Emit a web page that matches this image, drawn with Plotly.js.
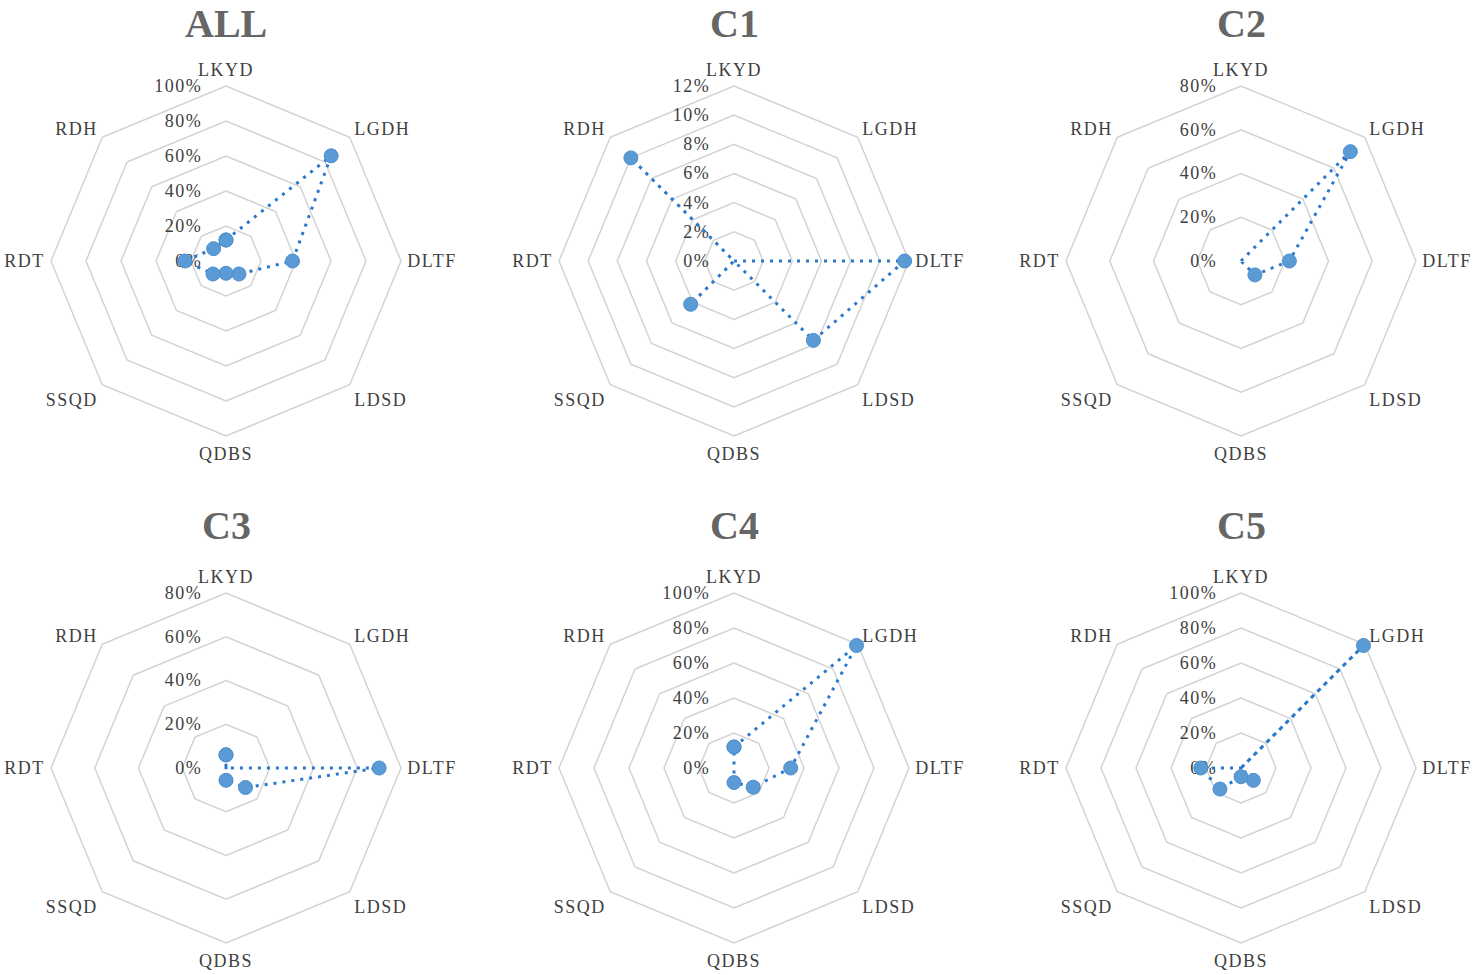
<!DOCTYPE html>
<html>
<head>
<meta charset="utf-8">
<script src="https://cdn.plot.ly/plotly-3.0.1.min.js"></script>
<style>
  html, body { margin: 0; padding: 0; background: #ffffff; }
  #chart { width: 1476px; height: 975px; }
  #chart .angularaxistick text, #chart .radialaxistick text, #chart .xtick text { letter-spacing: 1.5px; }
</style>
</head>
<body>
<div id="chart"></div>
<script>
// ---------- data ----------
const categories = ['LKYD', 'LGDH', 'DLTF', 'LDSD', 'QDBS', 'SSQD', 'RDT', 'RDH'];
const panelTitles = ['ALL', 'C1', 'C2', 'C3', 'C4', 'C5'];
const allValues = [0.12, 0.85, 0.38, 0.105, 0.07, 0.105, 0.235, 0.10];
const c1Values  = [0, 0, 0.117, 0.077, 0, 0.042, 0, 0.100];
const c2Values  = [0, 0.707, 0.221, 0.09, 0, 0, 0, 0];
const c3Values  = [0.06, 0, 0.70, 0.126, 0.056, 0, 0, 0];
const c4Values  = [0.12, 0.99, 0.324, 0.155, 0.083, 0, 0, 0];
const c5Values  = [0, 0.99, 0, 0.10, 0.05, 0.17, 0.23, 0];
const radialMax = [1.0, 0.12, 0.8, 0.8, 1.0, 1.0];
const radialStep = [0.2, 0.02, 0.2, 0.2, 0.2, 0.2];

// ---------- layout geometry (pixels) ----------
const W = 1476, H = 975;
const colCenters = [226, 734, 1241];
const rowCenters = [261, 768];
const R = 175;

const series = [allValues, c1Values, c2Values, c3Values, c4Values, c5Values];
const FONT = 'Liberation Serif, Times New Roman, serif';
const GRID = '#d3d3d3';

const traces = [];
const layout = {
  width: W, height: H,
  margin: { l: 0, r: 0, t: 0, b: 0 },
  paper_bgcolor: '#ffffff',
  showlegend: false,
  annotations: []
};

series.forEach((vals, i) => {
  const key = i === 0 ? 'polar' : 'polar' + (i + 1);
  const col = i % 3, row = Math.floor(i / 3);
  const cx = colCenters[col], cy = rowCenters[row];
  traces.push({
    type: 'scatterpolar',
    subplot: key,
    r: vals.concat([vals[0]]),
    theta: categories.concat([categories[0]]),
    mode: 'lines+markers',
    line: { color: '#2a78cc', width: 3, dash: '3px,6px' },
    marker: { size: 14, color: '#5b9bd5', line: { color: '#4c8dcc', width: 1 } },
    hoverinfo: 'skip',
    cliponaxis: false
  });
  layout[key] = {
    domain: {
      x: [(cx - R) / W, (cx + R) / W],
      y: [1 - (cy + R) / H, 1 - (cy - R) / H]
    },
    bgcolor: 'rgba(0,0,0,0)',
    gridshape: 'linear',
    radialaxis: {
      range: [0, radialMax[i]],
      dtick: radialStep[i],
      tick0: 0,
      tickformat: '.0%',
      angle: 90,
      tickangle: 90,
      side: 'counterclockwise',
      showline: false,
      ticks: 'outside',
      ticklen: 17,
      tickcolor: 'rgba(0,0,0,0)',
      showgrid: true,
      gridcolor: GRID,
      gridwidth: 1.5,
      tickfont: { family: FONT, size: 18, color: '#404040' },
      layer: 'below traces'
    },
    angularaxis: {
      type: 'category',
      categoryarray: categories,
      rotation: 90,
      direction: 'clockwise',
      showgrid: false,
      showline: true,
      linecolor: GRID,
      linewidth: 1.5,
      ticks: 'outside',
      ticklen: 2,
      tickcolor: 'rgba(0,0,0,0)',
      tickfont: { family: FONT, size: 18, color: '#404040' },
      layer: 'below traces'
    }
  };
  const ann = {
    text: '<b>' + panelTitles[i] + '</b>',
    xref: 'paper', yref: 'paper',
    x: cx / W,
    xanchor: 'center',
    showarrow: false,
    borderpad: 0,
    font: { family: FONT, size: 40, color: '#666666' }
  };
  if (row === 0) { ann.y = 1; ann.yanchor = 'top'; }
  else { ann.y = 1 - 525 / H; ann.yanchor = 'middle'; }
  layout.annotations.push(ann);
});

Plotly.newPlot('chart', traces, layout, { staticPlot: true, displayModeBar: false });
</script>
</body>
</html>
